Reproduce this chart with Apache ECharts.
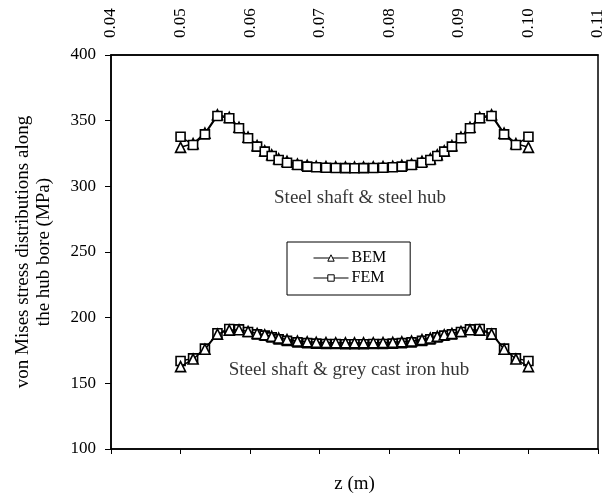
<!DOCTYPE html>
<html>
<head>
<meta charset="utf-8">
<script src="https://cdn.jsdelivr.net/npm/echarts@6/dist/echarts.min.js"></script>
<style>html,body{margin:0;padding:0;background:#fff}#c{width:616px;height:500px}</style>
</head>
<body>
<div id="c"></div>
<script>
const zValues = [0.0500, 0.0518, 0.0535, 0.0553, 0.0570, 0.0584, 0.0597, 0.0610, 0.0621, 0.0631, 0.0641, 0.0653, 0.0668, 0.0682, 0.0695, 0.0709, 0.0723, 0.0737, 0.0750,
  0.0763, 0.0777, 0.0791, 0.0805, 0.0818, 0.0832, 0.0847, 0.0859, 0.0869, 0.0879, 0.0890, 0.0903, 0.0916, 0.0930, 0.0947, 0.0965, 0.0982, 0.1000];

const steelFEM = [337.8, 331.5, 339.6, 353.6, 351.8, 344.2, 336.6, 330.2, 326.4, 323.1, 320.0, 318.0, 316.2, 315.0, 314.5, 314.2, 314.0, 313.9, 313.8,
  313.9, 314.0, 314.2, 314.5, 315.0, 316.2, 318.0, 320.0, 323.1, 326.4, 330.2, 336.6, 344.2, 351.8, 353.6, 339.6, 331.5, 337.8];
const steelBEM = [329.7, 332.5, 340.5, 354.5, 352.5, 345.0, 337.5, 331.0, 327.0, 324.0, 321.0, 319.0, 317.0, 316.0, 315.3, 315.0, 314.8, 314.7, 314.6,
  314.7, 314.8, 315.0, 315.3, 316.0, 317.0, 319.0, 321.0, 324.0, 327.0, 331.0, 337.5, 345.0, 352.5, 354.5, 340.5, 332.5, 329.7];
const ironFEM = [167.0, 169.0, 176.4, 188.1, 191.4, 191.1, 189.1, 187.3, 186.3, 185.0, 183.5, 182.3, 181.2, 180.6, 180.2, 180.0, 179.9, 179.8, 179.8,
  179.8, 179.9, 180.0, 180.2, 180.6, 181.2, 182.3, 183.5, 185.0, 186.3, 187.3, 189.1, 191.1, 191.4, 188.1, 176.4, 169.0, 167.0];
const ironBEM = [162.7, 168.5, 176.0, 187.5, 190.5, 190.8, 189.5, 188.0, 187.0, 185.8, 184.5, 183.3, 182.2, 181.6, 181.2, 181.0, 180.9, 180.8, 180.8,
  180.8, 180.9, 181.0, 181.2, 181.6, 182.2, 183.3, 184.5, 185.8, 187.0, 188.0, 189.5, 190.8, 190.5, 187.5, 176.0, 168.5, 162.7];

const xTicks = [0.04, 0.05, 0.06, 0.07, 0.08, 0.09, 0.10, 0.11];
const yTicks = [100, 150, 200, 250, 300, 350, 400];
const annotations = [
  [0.0758, 291.1, 'Steel shaft & steel hub'],
  [0.0742, 160.1, 'Steel shaft & grey cast iron hub']
];

const FONT = '"Liberation Serif", "DejaVu Serif", serif';
const pair = (xs, ys) => xs.map((x, i) => [x, ys[i]]);

function lineSeries(name, symbol, values, z) {
  return {
    name: name, type: 'line', data: pair(zValues, values),
    symbol: symbol, symbolSize: symbol === 'rect' ? 9 : 10, z: z,
    lineStyle: { color: '#000', width: 1.5 },
    itemStyle: { color: '#fff', borderColor: '#000', borderWidth: 1.6 },
    emphasis: { disabled: true }, animation: false
  };
}

const chart = echarts.init(document.getElementById('c'), null, { renderer: 'canvas' });
chart.setOption({
  backgroundColor: '#fff',
  animation: false,
  textStyle: { fontFamily: FONT },
  grid: { left: 111, right: 18, top: 55, bottom: 51, show: true, borderColor: '#000', borderWidth: 1.5 },
  legend: {
    data: ['BEM', 'FEM'], orient: 'vertical', left: 287, top: 242,
    padding: [8, 24, 9, 26], itemGap: 4, itemWidth: 35, itemHeight: 8,
    borderColor: '#000', borderWidth: 1, backgroundColor: '#fff',
    lineStyle: { width: 1 },
    itemStyle: { borderWidth: 1 },
    textStyle: { fontFamily: FONT, fontSize: 16, color: '#000', padding: [0, 0, 0, -2] }
  },
  xAxis: [
    {
      type: 'value', position: 'bottom', min: 0.04, max: 0.11, interval: 0.01,
      name: 'z (m)', nameLocation: 'middle', nameGap: 26,
      nameTextStyle: { fontFamily: FONT, fontSize: 19, color: '#000' },
      axisLine: { show: true, lineStyle: { color: '#000', width: 1.5 } },
      axisTick: { show: true, inside: false, length: 5, lineStyle: { color: '#000', width: 1 } },
      axisLabel: { show: false }, splitLine: { show: false }
    },
    {
      type: 'value', position: 'top', min: 0.04, max: 0.11, interval: 0.01,
      axisLine: { show: true, lineStyle: { color: '#000', width: 1.5 } },
      axisTick: { show: false }, splitLine: { show: false },
      axisLabel: {
        show: true, rotate: -90, margin: 17, fontFamily: FONT, fontSize: 17, color: '#000',
        customValues: xTicks, formatter: v => v.toFixed(2)
      }
    }
  ],
  yAxis: {
    type: 'value', min: 100, max: 400, interval: 50,
    name: 'von Mises stress distributions along\nthe hub bore (MPa)',
    nameLocation: 'middle', nameRotate: 90, nameGap: 56,
    nameTextStyle: { fontFamily: FONT, fontSize: 19, color: '#000', lineHeight: 21, align: 'center' },
    axisLine: { show: true, lineStyle: { color: '#000', width: 1.5 } },
    axisTick: { show: true, inside: false, length: 6, lineStyle: { color: '#000', width: 1 } },
    axisLabel: { margin: 15, fontFamily: FONT, fontSize: 17, color: '#000', customValues: yTicks },
    splitLine: { show: false }
  },
  series: [
    lineSeries('BEM', 'triangle', steelBEM, 2),
    lineSeries('FEM', 'rect', steelFEM, 3),
    lineSeries('FEM', 'rect', ironFEM, 2),
    lineSeries('BEM', 'triangle', ironBEM, 3),
    {
      type: 'scatter', name: 'notes', symbolSize: 0, silent: true, z: 5,
      data: annotations.map(a => ({ value: [a[0], a[1]], text: a[2] })),
      label: {
        show: true, position: 'inside', fontFamily: FONT, fontSize: 19, color: '#000',
        formatter: p => p.data.text
      },
      emphasis: { disabled: true }
    }
  ]
});
</script>
</body>
</html>
